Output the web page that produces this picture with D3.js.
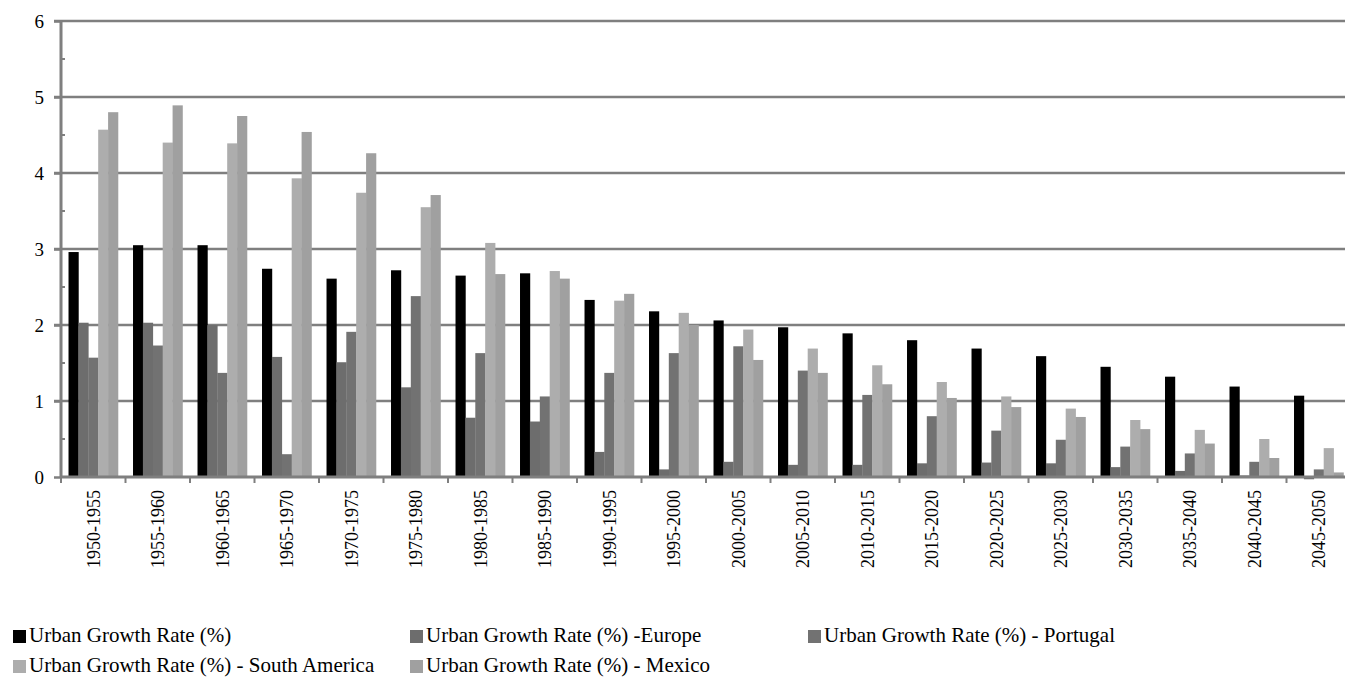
<!DOCTYPE html>
<html>
<head>
<meta charset="utf-8">
<script src="https://cdn.jsdelivr.net/npm/d3@7"></script>
<style>
  html, body { margin: 0; padding: 0; background: #fff; }
  svg { display: block; }
  svg text { font-family: "Liberation Serif", Tinos, "Times New Roman", "DejaVu Serif", serif; }
</style>
</head>
<body>
<svg id="chart" width="1345" height="681"></svg>
<script>
const categories = ["1950-1955","1955-1960","1960-1965","1965-1970","1970-1975","1975-1980","1980-1985","1985-1990","1990-1995","1995-2000","2000-2005","2005-2010","2010-2015","2015-2020","2020-2025","2025-2030","2030-2035","2035-2040","2040-2045","2045-2050"];

const seriesNames = ["Urban Growth Rate (%)","Urban Growth Rate (%) -Europe","Urban Growth Rate (%) - Portugal","Urban Growth Rate (%) - South America","Urban Growth Rate (%) - Mexico"];

const world    = [2.96,3.05,3.05,2.74,2.61,2.72,2.65,2.68,2.33,2.18,2.06,1.97,1.89,1.80,1.69,1.59,1.45,1.32,1.19,1.07];
const europe   = [2.03,2.03,2.00,1.58,1.51,1.18,0.78,0.73,0.33,0.10,0.20,0.16,0.16,0.18,0.19,0.18,0.13,0.08,0.02,-0.03];
const portugal = [1.57,1.73,1.37,0.30,1.91,2.38,1.63,1.06,1.37,1.63,1.72,1.40,1.08,0.80,0.61,0.49,0.40,0.31,0.20,0.10];
const southAm  = [4.57,4.40,4.39,3.93,3.74,3.55,3.08,2.71,2.32,2.16,1.94,1.69,1.47,1.25,1.06,0.90,0.75,0.62,0.50,0.38];
const mexico   = [4.80,4.89,4.75,4.54,4.26,3.71,2.67,2.61,2.41,2.00,1.54,1.37,1.22,1.04,0.92,0.79,0.63,0.44,0.25,0.06];

const yTicks = [0,1,2,3,4,5,6];
const yMinorTicks = [0.5,1.5,2.5,3.5,4.5,5.5];

const seriesValues = [world, europe, portugal, southAm, mexico];
const colors = ["#000000","#6d6d6d","#727272","#adadad","#a0a0a0"];

const svg = d3.select("#chart");
const plotLeft = 61, plotBottom = 477, plotTop = 21;
const step = 64.5;

const x = d3.scaleBand()
  .domain(categories)
  .range([plotLeft, plotLeft + step * categories.length])
  .paddingInner(0.233)
  .paddingOuter(0.1165);

const xs = d3.scaleBand()
  .domain(d3.range(seriesNames.length))
  .range([0, x.bandwidth()])
  .padding(0);

const y = d3.scaleLinear().domain([0, 6]).range([plotBottom, plotTop]);

// gridlines
svg.append("g")
  .selectAll("line")
  .data(yTicks.filter(d => d > 0))
  .join("line")
  .attr("x1", plotLeft - 7)
  .attr("x2", 1345)
  .attr("y1", d => y(d))
  .attr("y2", d => y(d))
  .attr("stroke", "#7f7f7f")
  .attr("stroke-width", 2.5);

// bars
const groups = svg.append("g")
  .selectAll("g")
  .data(categories)
  .join("g")
  .attr("transform", d => `translate(${x(d)},0)`);

groups.selectAll("rect")
  .data((c, i) => seriesValues.map((s, k) => ({k, v: s[i]})))
  .join("rect")
  .attr("x", d => xs(d.k))
  .attr("width", xs.bandwidth() + 0.3)
  .attr("y", d => Math.min(y(d.v), y(0)))
  .attr("height", d => Math.abs(y(d.v) - y(0)))
  .attr("fill", d => colors[d.k]);

// y axis
const yAxis = svg.append("g")
  .attr("transform", `translate(${plotLeft},0)`)
  .call(d3.axisLeft(y).tickValues(yTicks).tickSize(7).tickPadding(10).tickFormat(d3.format("d")));
yAxis.attr("font-family", null);
yAxis.select(".domain").remove();
yAxis.selectAll(".tick line").attr("stroke", "#7f7f7f").attr("stroke-width", 2.5);
yAxis.selectAll(".tick text").attr("font-size", 19).attr("fill", "#000");

svg.append("g")
  .selectAll("line")
  .data(yMinorTicks)
  .join("line")
  .attr("x1", plotLeft).attr("x2", plotLeft + 4)
  .attr("y1", d => y(d)).attr("y2", d => y(d))
  .attr("stroke", "#7f7f7f").attr("stroke-width", 2);

svg.append("line")
  .attr("x1", plotLeft).attr("x2", plotLeft)
  .attr("y1", y(6) - 1).attr("y2", plotBottom + 1)
  .attr("stroke", "#7f7f7f").attr("stroke-width", 3);

// x axis
const xAxis = svg.append("g")
  .attr("transform", `translate(0,${plotBottom})`)
  .call(d3.axisBottom(x).tickSize(0).tickPadding(0));
xAxis.attr("font-family", null);
xAxis.select(".domain").remove();
xAxis.selectAll(".tick text")
  .attr("font-size", 18)
  .attr("fill", "#000")
  .attr("text-anchor", "end")
  .attr("dy", "0.35em")
  .attr("transform", "translate(0,13) rotate(-90)")
  .attr("y", 0).attr("x", 0);

svg.append("g")
  .selectAll("line")
  .data(categories)
  .join("line")
  .attr("x1", d => x(d) - x.step() * x.paddingInner() / 2)
  .attr("x2", d => x(d) - x.step() * x.paddingInner() / 2)
  .attr("y1", plotBottom).attr("y2", plotBottom + 6)
  .attr("stroke", "#7f7f7f").attr("stroke-width", 2);

svg.append("line")
  .attr("x1", plotLeft).attr("x2", 1345)
  .attr("y1", plotBottom).attr("y2", plotBottom)
  .attr("stroke", "#7f7f7f").attr("stroke-width", 3);

// legend
const legendPos = [
  {x: 13, y: 642}, {x: 410, y: 642}, {x: 808, y: 642},
  {x: 13, y: 672}, {x: 410, y: 672}
];
const legend = svg.append("g")
  .selectAll("g")
  .data(seriesNames)
  .join("g")
  .attr("transform", (d, i) => `translate(${legendPos[i].x},${legendPos[i].y})`);
legend.append("rect")
  .attr("x", 0).attr("y", -12).attr("width", 13).attr("height", 13)
  .attr("fill", (d, i) => colors[i]);
legend.append("text")
  .attr("x", 16).attr("y", 0)
  .attr("font-size", 21)
  .attr("fill", "#000")
  .text(d => d);
</script>
</body>
</html>
